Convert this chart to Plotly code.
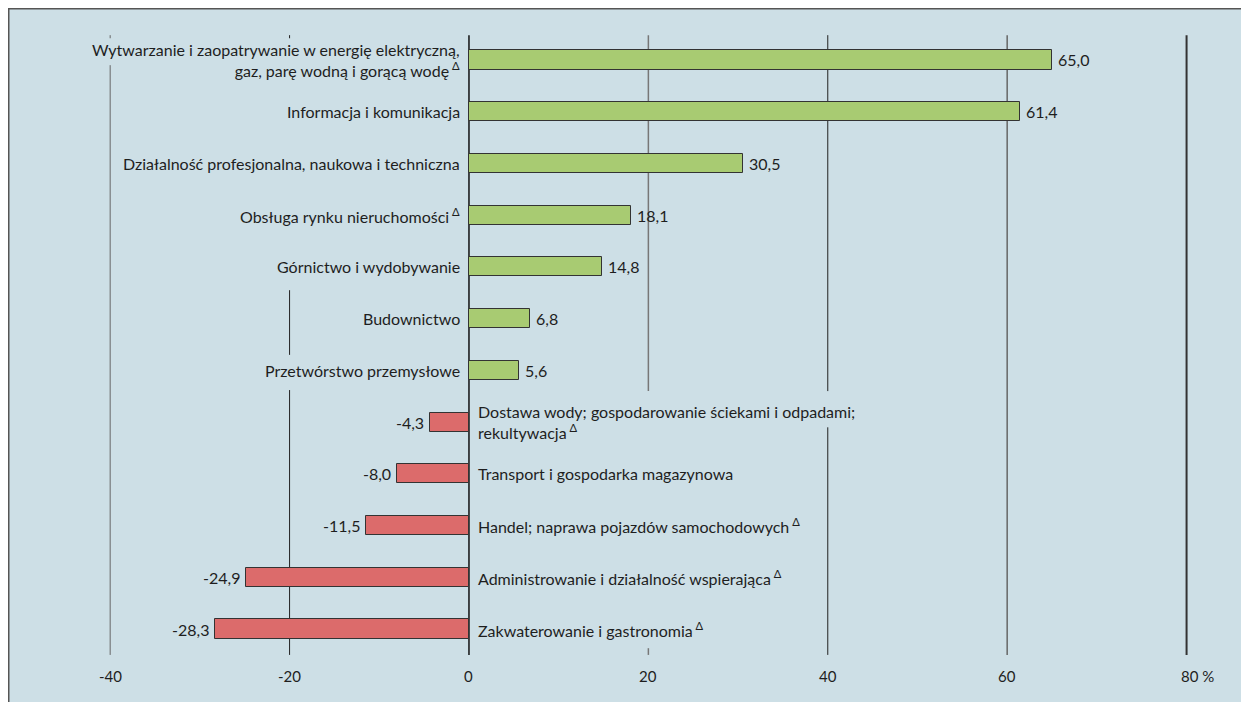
import plotly.graph_objects as go

categories = [
    "Wytwarzanie i zaopatrywanie w energię elektryczną,<br>gaz, parę wodną i gorącą wodę<sup> Δ</sup>",
    "Informacja i komunikacja",
    "Działalność profesjonalna, naukowa i techniczna",
    "Obsługa rynku nieruchomości<sup> Δ</sup>",
    "Górnictwo i wydobywanie",
    "Budownictwo",
    "Przetwórstwo przemysłowe",
    "Dostawa wody; gospodarowanie ściekami i odpadami;<br>rekultywacja<sup> Δ</sup>",
    "Transport i gospodarka magazynowa",
    "Handel; naprawa pojazdów samochodowych<sup> Δ</sup>",
    "Administrowanie i działalność wspierająca<sup> Δ</sup>",
    "Zakwaterowanie i gastronomia<sup> Δ</sup>",
]
values = [65.0, 61.4, 30.5, 18.1, 14.8, 6.8, 5.6, -4.3, -8.0, -11.5, -24.9, -28.3]
tick_vals = [-40, -20, 0, 20, 40, 60, 80]
tick_text = ["-40", "-20", "0", "20", "40", "60", "80 %"]

BG = "#cddfe6"
GREEN = "#a8cb72"
RED = "#dc6b6b"
TXT = "#1e1e1e"
FONT = "Lato"

rows = list(range(len(values)))
colors = [GREEN if v >= 0 else RED for v in values]

fig = go.Figure()
fig.add_trace(go.Bar(
    x=values, y=rows, orientation="h", width=0.37,
    marker=dict(color=colors, line=dict(color="#333333", width=1)),
    hoverinfo="skip", showlegend=False,
))

# gridline segments (decorative, partially hidden behind labels as in the original)
grid = [
    (-40, "#666666", 1, [(-0.48, -0.42), (0.1, 11.5)]),
    (-20, "#222222", 1, [(-0.48, -0.42), (4.45, 5.7), (6.38, 11.5)]),
    (20, "#777777", 1.5, [(-0.48, 6.4), (11.37, 11.5)]),
    (40, "#222222", 1, [(-0.48, 6.4), (7.1, 11.5)]),
    (60, "#666666", 1.5, [(-0.48, 11.5)]),
    (80, "#333333", 2, [(-0.48, 11.5)]),
    (0, "#111111", 1.5, [(-0.48, 11.5)]),
]
shapes = []
for xv, col, w, segs in grid:
    for y0, y1 in segs:
        shapes.append(dict(type="line", xref="x", yref="y", x0=xv, x1=xv, y0=y0, y1=y1,
                           line=dict(color=col, width=w), layer="below"))
# frame lines (top and left)
shapes.append(dict(type="line", xref="paper", yref="paper", x0=0, x1=1, y0=1, y1=1,
                   line=dict(color="#555555", width=3)))
shapes.append(dict(type="line", xref="paper", yref="paper", x0=0, x1=0, y0=0, y1=1,
                   line=dict(color="#555555", width=3)))

FS = 16
annotations = []
for r, (cat, v) in enumerate(zip(categories, values)):
    lab = f"{v:.1f}".replace(".", ",")
    if v >= 0:
        annotations.append(dict(x=0, y=r, xref="x", yref="y", text=cat, showarrow=False,
                                xanchor="right", align="right", xshift=-7,
                                font=dict(family=FONT, size=FS, color=TXT)))
        annotations.append(dict(x=v, y=r, xref="x", yref="y", text=lab, showarrow=False,
                                xanchor="left", xshift=4,
                                font=dict(family=FONT, size=FS, color=TXT)))
    else:
        annotations.append(dict(x=0, y=r, xref="x", yref="y", text=cat, showarrow=False,
                                xanchor="left", align="left", xshift=7,
                                font=dict(family=FONT, size=FS, color=TXT)))
        annotations.append(dict(x=v, y=r, xref="x", yref="y", text=lab, showarrow=False,
                                xanchor="right", xshift=-4,
                                font=dict(family=FONT, size=FS, color=TXT)))

for tv, tt in zip(tick_vals, tick_text):
    annotations.append(dict(x=tv, y=11.91, xref="x", yref="y", text=tt, showarrow=False,
                            xanchor="left" if "%" in tt else "center",
                            xshift=-8 if "%" in tt else 0,
                            font=dict(family=FONT, size=15, color=TXT)))

fig.update_layout(
    width=1241, height=694,
    margin=dict(l=0, r=0, t=0, b=0),
    paper_bgcolor="white", plot_bgcolor=BG,
    shapes=shapes, annotations=annotations,
    xaxis=dict(range=[-51.39, 86.96], showgrid=False, zeroline=False,
               showticklabels=False, ticks="", fixedrange=True),
    yaxis=dict(range=[12.41, -1.005], showgrid=False, zeroline=False,
               showticklabels=False, ticks="", fixedrange=True),
    bargap=0,
)

fig.write_html("out.html")
